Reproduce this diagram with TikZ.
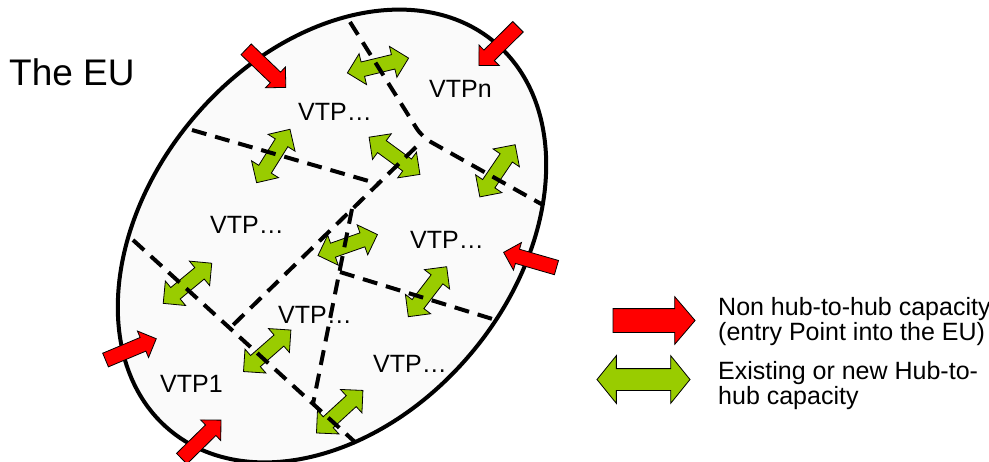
\documentclass[tikz,border=0pt]{standalone}
\usepackage{fontspec}
\setmainfont{Liberation Sans}
\usetikzlibrary{shapes.arrows}
\definecolor{hubgreen}{RGB}{153,204,0}
\definecolor{entryred}{RGB}{255,0,0}
\begin{document}
\begin{tikzpicture}[x=1pt,y=-1pt,
  redarrow/.style={single arrow, draw=black, line width=0.8pt, fill=entryred,
    minimum height=55pt, inner xsep=0pt, inner ysep=7pt, single arrow head extend=7pt,
    single arrow tip angle=90},
  greenarrow/.style={double arrow, draw=black, line width=0.8pt, fill=hubgreen,
    minimum height=63pt, inner xsep=0pt, inner ysep=7pt, double arrow head extend=8.5pt,
    double arrow tip angle=90},
  borderline/.style={line width=4pt, dash pattern=on 15pt off 9pt},
  vtp/.style={anchor=base west, inner sep=0pt, font=\fontsize{25}{25}\selectfont},
  legtext/.style={anchor=north west, inner sep=0pt, align=left, font=\fontsize{25}{25}\selectfont}]
\useasboundingbox (0,0) rectangle (989,461);
\clip (0,0) rectangle (989,461);

% the EU area
\draw[line width=4pt, fill=black!2, rotate around={50:(332,236)}] (332,236) ellipse [x radius=253, y radius=182];

% title
\node[anchor=base west, inner sep=0pt, font=\fontsize{37}{37}\selectfont] (title) at (9,85) {The EU};

% red entry arrows
\node[redarrow, rotate=-43.8] (r1) at (263.3,65.8) {};
\node[redarrow, rotate=-135.3] (r2) at (501.1,43.5) {};
\node[redarrow, rotate=163.9] (r3) at (533.6,261) {};
\node[redarrow, rotate=22.8] (r4) at (127.5,350.8) {};
\node[redarrow, rotate=44.5] (r5) at (198.7,442) {};

% green hub-to-hub arrows
\node[greenarrow, rotate=13.6] (g1) at (378,65.5) {};
\node[greenarrow, rotate=58] (g2) at (273.3,156) {};
\node[greenarrow, rotate=-36.2] (g3) at (394.5,155.8) {};
\node[greenarrow, rotate=55.9] (g4) at (497.5,170.8) {};
\node[greenarrow, rotate=19.4] (g5) at (347.7,245) {};
\node[greenarrow, rotate=52.5] (g6) at (427.5,291.7) {};
\node[greenarrow, rotate=39.6] (g7) at (187.5,283.3) {};
\node[greenarrow, rotate=41.2] (g8) at (267.2,350.8) {};
\node[greenarrow, rotate=42.5] (g9) at (339.7,411.7) {};

% dashed borders between VTPs
\coordinate (a0) at (350,22);
\coordinate (a1) at (422,137);
\coordinate (a2) at (543,205);
\coordinate (b0) at (192,130);
\coordinate (b1) at (379,184);
\coordinate (c0) at (416,147);
\coordinate (c1) at (230,328);
\coordinate (d0) at (133,240);
\coordinate (d1) at (356,443);
\coordinate (e0) at (352,209);
\coordinate (e1) at (313,404);
\coordinate (f0) at (340,272);
\coordinate (f1) at (499,321);
\draw[borderline, rounded corners=10pt] (a0) -- (a1) -- (a2);
\draw[borderline] (b0) -- (b1);
\draw[borderline] (c0) -- (c1);
\draw[borderline] (d0) -- (d1);
\draw[borderline] (e0) -- (e1);
\draw[borderline] (f0) -- (f1);

% VTP labels
\node[vtp] (vtpn) at (429,97) {VTPn};
\node[vtp] (vtpa) at (298,120) {VTP…};
\node[vtp] (vtpb) at (210,233) {VTP…};
\node[vtp] (vtpc) at (410,248) {VTP…};
\node[vtp] (vtpd) at (278,323) {VTP…};
\node[vtp] (vtpe) at (373,372) {VTP…};
\node[vtp] (vtp1) at (160,392) {VTP1};

% legend
\node[single arrow, draw=black, line width=0.8pt, fill=entryred,
  minimum height=82pt, inner xsep=0pt, inner ysep=11.5pt, single arrow head extend=12pt,
  single arrow tip angle=99] (lr) at (649,320.5) {};
\node[double arrow, draw=black, line width=0.8pt, fill=hubgreen,
  minimum height=93pt, inner xsep=0pt, inner ysep=10.5pt, double arrow head extend=13pt,
  double arrow tip angle=102] (lg) at (643.5,379.5) {};
\node[legtext] (lt1) at (718,297) {Non hub-to-hub capacity\\(entry Point into the EU)};
\node[legtext] (lt2) at (718,361.5) {Existing or new Hub-to-\\hub capacity};
\end{tikzpicture}
\end{document}
